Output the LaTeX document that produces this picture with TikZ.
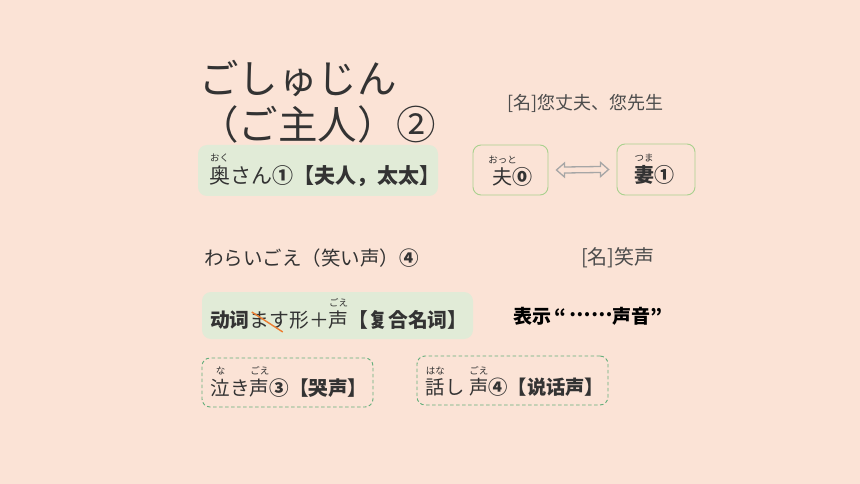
\documentclass[tikz,border=0pt]{standalone}
\usepackage{fontspec}
\setmainfont{Noto Sans CJK JP}
\usetikzlibrary{calc}
\definecolor{bgc}{HTML}{FBE3D6}
\definecolor{gfill}{HTML}{E1EBD7}
\definecolor{gline}{HTML}{A9D18E}
\definecolor{gdash}{HTML}{62AE7A}
\definecolor{txt}{HTML}{333333}
\definecolor{strk}{HTML}{ED7D31}
\definecolor{arrg}{HTML}{A6A6A6}
\newcommand\fs[1]{\fontsize{#1}{#1}\selectfont}
\newcommand\rb[2]{\leavevmode\setbox0\hbox{#1}\hbox to \wd0{\hss\raisebox{1.05em}[0pt][0pt]{\fs{9.5}\mdseries #2}\hss}\hskip-\wd0\box0}
\begin{document}
\begin{tikzpicture}[x=1pt,y=-1pt,
  txtn/.style={inner sep=0pt,text=txt},
  gbox/.style={fill=gfill,draw=none,rounded corners=9pt,inner sep=0pt},
  obox/.style={draw=gline,line width=0.9pt,rounded corners=8pt,inner sep=0pt},
  dbox/.style={draw=gdash,line width=0.9pt,dashed,dash pattern=on 3.5pt off 2.5pt,rounded corners=8pt,inner sep=0pt}]
\useasboundingbox (0,0) rectangle (860,484);
\fill[bgc] (0,0) rectangle (860,484);
% title
\node[txtn,anchor=west,text=black!80] (title1) at (199,79) {\fs{39.5}ごしゅじん};
\node[txtn,anchor=west,text=black!80] (title2) at (199,124) {\fs{39.5}（ご主人）②};
% box 1
\node[gbox,minimum width=240pt,minimum height=51pt] (box1) at (318,170.5) {};
\node[txtn,anchor=west] (t1) at ($(box1.west)+(11,5.5)$) {\fs{21}\rb{奥}{おく}さん\textbf{①【夫人，太太】}};
% meaning 1
\node[txtn,anchor=west,text=black!70] (m1) at (507,103) {\fs{18}[名]您丈夫、您先生};
% husband / wife
\node[obox,minimum width=75pt,minimum height=50pt] (fu) at (510.5,170) {};
\node[txtn] (tfu) at ($(fu.center)+(2,7)$) {\fs{20}\rb{夫}{おっと}\textbf{⓪}};
\node[obox,minimum width=78pt,minimum height=51pt] (tsuma) at (656,169.5) {};
\node[txtn] (ttsuma) at ($(tsuma.center)+(-2,5.5)$) {\fs{20}\textbf{\rb{妻}{つま}①}};
\coordinate (al) at ($(fu.east)+(8,0)$);
\coordinate (ar) at ($(tsuma.west)+(-8,0)$);
\draw[arrg,line width=1.3pt,fill=bgc,line join=miter]
  (al) -- ++(8,-7) -- ++(0,4) -- ($(ar)+(-8,-3)$) -- ++(0,-4) -- (ar) -- ++(-8,7) -- ++(0,-4)
  -- ($(al)+(8,3)$) -- ++(0,4) -- cycle;
% warai goe
\node[txtn,anchor=west] (w1) at (204,258) {\fs{19.5}わらいごえ（笑い声）\textbf{④}};
\node[txtn,anchor=west,text=black!70] (m2) at (581,258) {\fs{20}[名]笑声};
% box 2
\node[gbox,minimum width=271pt,minimum height=47pt] (box2) at (337.5,315.5) {};
\node[txtn,anchor=west] (t2) at ($(box2.west)+(8,4.5)$) {\fs{19.8}\textbf{动词}ます形＋\rb{声}{ごえ}\textbf{【复合名词】}};
\draw[strk,line width=1.4pt] ($(t2.west)+(42,-8)$) coordinate (s1) -- ($(t2.west)+(73,12)$) coordinate (s2);
\node[txtn,anchor=west,text=black] (m3) at (513,316) {\fs{19}\textbf{表示\hspace{0.15em}“\hspace{0.2em}\raisebox{0.33em}{……}声音”}};
% box 3
\node[dbox,minimum width=171pt,minimum height=49pt] (box3) at (287.5,382.5) {};
\node[txtn,anchor=west] (t3) at ($(box3.west)+(9,5.5)$) {\fs{19.6}\rb{泣}{な}き\rb{声}{ごえ}\textbf{③【哭声】}};
% box 4
\node[dbox,minimum width=191pt,minimum height=49pt] (box4) at (512.5,380.5) {};
\node[txtn,anchor=west] (t4) at ($(box4.west)+(9,6.5)$) {\fs{19.3}\rb{話}{はな}し\hspace{0.25em}\rb{声}{ごえ}\textbf{④【说话声】}};
\end{tikzpicture}
\end{document}
